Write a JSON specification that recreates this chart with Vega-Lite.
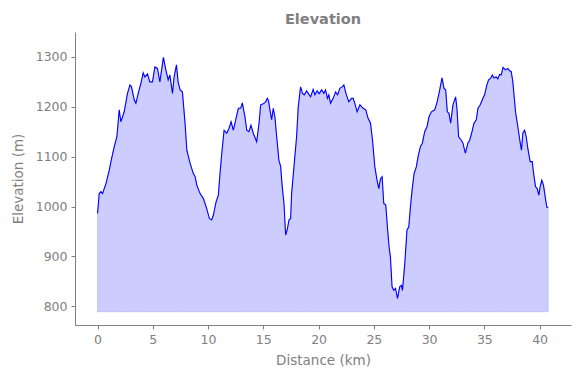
{
  "$schema": "https://vega.github.io/schema/vega-lite/v6.json",
  "autosize": "none",
  "width": 496,
  "height": 293,
  "padding": {"left": 75, "top": 32, "right": 9, "bottom": 53},
  "background": "white",
  "config": {
    "view": {"stroke": null},
    "font": "DejaVu Sans",
    "axis": {
      "grid": false,
      "domainColor": "#808080",
      "tickColor": "#808080",
      "labelColor": "#808080",
      "titleColor": "#808080",
      "labelFont": "DejaVu Sans",
      "titleFont": "DejaVu Sans",
      "labelFontSize": 12.5,
      "titleFontSize": 13.5,
      "titleFontWeight": "normal",
      "tickSize": 4,
      "labelPadding": 4
    }
  },
  "title": {
    "text": "Elevation",
    "fontSize": 14.5,
    "fontWeight": "bold",
    "color": "#808080",
    "font": "DejaVu Sans",
    "anchor": "middle",
    "offset": 5
  },
  "data": {
    "values": [
      {"km": 0, "elev": 986}, {"km": 0.15, "elev": 1026}, {"km": 0.31, "elev": 1030}, {"km": 0.45, "elev": 1026},
      {"km": 0.76, "elev": 1046}, {"km": 1.06, "elev": 1073}, {"km": 1.21, "elev": 1090}, {"km": 1.51, "elev": 1120},
      {"km": 1.75, "elev": 1140}, {"km": 1.96, "elev": 1194}, {"km": 2.11, "elev": 1170}, {"km": 2.41, "elev": 1190},
      {"km": 2.71, "elev": 1227}, {"km": 2.93, "elev": 1244}, {"km": 3.07, "elev": 1240}, {"km": 3.32, "elev": 1214},
      {"km": 3.47, "elev": 1207}, {"km": 3.68, "elev": 1227}, {"km": 3.92, "elev": 1247}, {"km": 4.13, "elev": 1268},
      {"km": 4.28, "elev": 1260}, {"km": 4.52, "elev": 1266}, {"km": 4.73, "elev": 1250}, {"km": 4.97, "elev": 1250},
      {"km": 5.19, "elev": 1280}, {"km": 5.42, "elev": 1277}, {"km": 5.64, "elev": 1250}, {"km": 5.96, "elev": 1299},
      {"km": 6.18, "elev": 1274}, {"km": 6.39, "elev": 1254}, {"km": 6.54, "elev": 1264}, {"km": 6.78, "elev": 1227},
      {"km": 6.93, "elev": 1260}, {"km": 7.14, "elev": 1284}, {"km": 7.29, "elev": 1250}, {"km": 7.47, "elev": 1234},
      {"km": 7.68, "elev": 1230}, {"km": 7.92, "elev": 1167}, {"km": 8.08, "elev": 1113}, {"km": 8.37, "elev": 1087},
      {"km": 8.67, "elev": 1066}, {"km": 8.83, "elev": 1060}, {"km": 8.98, "elev": 1043}, {"km": 9.28, "elev": 1026},
      {"km": 9.58, "elev": 1016}, {"km": 9.88, "elev": 996}, {"km": 10.12, "elev": 976}, {"km": 10.33, "elev": 973},
      {"km": 10.48, "elev": 983}, {"km": 10.72, "elev": 1009}, {"km": 10.93, "elev": 1023}, {"km": 11.08, "elev": 1066},
      {"km": 11.24, "elev": 1107}, {"km": 11.45, "elev": 1153}, {"km": 11.69, "elev": 1147}, {"km": 11.9, "elev": 1157},
      {"km": 12.08, "elev": 1170}, {"km": 12.29, "elev": 1153}, {"km": 12.53, "elev": 1177}, {"km": 12.74, "elev": 1197},
      {"km": 12.95, "elev": 1197}, {"km": 13.1, "elev": 1208}, {"km": 13.34, "elev": 1180}, {"km": 13.5, "elev": 1153},
      {"km": 13.7, "elev": 1150}, {"km": 13.88, "elev": 1163}, {"km": 14.09, "elev": 1147}, {"km": 14.4, "elev": 1130},
      {"km": 14.61, "elev": 1167}, {"km": 14.76, "elev": 1204}, {"km": 15.0, "elev": 1206}, {"km": 15.21, "elev": 1210},
      {"km": 15.36, "elev": 1217}, {"km": 15.47, "elev": 1212}, {"km": 15.6, "elev": 1194}, {"km": 15.75, "elev": 1174},
      {"km": 15.9, "elev": 1197}, {"km": 16.05, "elev": 1180}, {"km": 16.21, "elev": 1140}, {"km": 16.41, "elev": 1093},
      {"km": 16.57, "elev": 1080}, {"km": 16.71, "elev": 1040}, {"km": 16.87, "elev": 1006}, {"km": 17.02, "elev": 943},
      {"km": 17.16, "elev": 953}, {"km": 17.32, "elev": 973}, {"km": 17.47, "elev": 976}, {"km": 17.56, "elev": 1026},
      {"km": 17.8, "elev": 1087}, {"km": 18.01, "elev": 1140}, {"km": 18.16, "elev": 1200}, {"km": 18.37, "elev": 1240},
      {"km": 18.55, "elev": 1227}, {"km": 18.7, "elev": 1224}, {"km": 18.92, "elev": 1232}, {"km": 19.06, "elev": 1227},
      {"km": 19.28, "elev": 1220}, {"km": 19.51, "elev": 1235}, {"km": 19.67, "elev": 1224}, {"km": 19.87, "elev": 1232},
      {"km": 20.05, "elev": 1226}, {"km": 20.27, "elev": 1234}, {"km": 20.48, "elev": 1227}, {"km": 20.63, "elev": 1234},
      {"km": 20.81, "elev": 1217}, {"km": 20.93, "elev": 1224}, {"km": 21.08, "elev": 1207}, {"km": 21.32, "elev": 1217},
      {"km": 21.54, "elev": 1230}, {"km": 21.72, "elev": 1224}, {"km": 21.92, "elev": 1237}, {"km": 22.13, "elev": 1240},
      {"km": 22.29, "elev": 1244}, {"km": 22.44, "elev": 1230}, {"km": 22.58, "elev": 1220}, {"km": 22.74, "elev": 1210},
      {"km": 22.98, "elev": 1217}, {"km": 23.13, "elev": 1217}, {"km": 23.28, "elev": 1207}, {"km": 23.49, "elev": 1190},
      {"km": 23.74, "elev": 1204}, {"km": 24.03, "elev": 1197}, {"km": 24.27, "elev": 1194}, {"km": 24.48, "elev": 1177},
      {"km": 24.7, "elev": 1167}, {"km": 24.88, "elev": 1133}, {"km": 25.09, "elev": 1080}, {"km": 25.29, "elev": 1053},
      {"km": 25.45, "elev": 1036}, {"km": 25.6, "elev": 1056}, {"km": 25.75, "elev": 1060}, {"km": 25.9, "elev": 1006},
      {"km": 26.08, "elev": 1003}, {"km": 26.23, "elev": 959}, {"km": 26.38, "elev": 919}, {"km": 26.5, "elev": 899},
      {"km": 26.65, "elev": 839}, {"km": 26.8, "elev": 832}, {"km": 26.96, "elev": 836}, {"km": 27.14, "elev": 816},
      {"km": 27.34, "elev": 839}, {"km": 27.5, "elev": 842}, {"km": 27.59, "elev": 832}, {"km": 27.8, "elev": 886},
      {"km": 28.0, "elev": 953}, {"km": 28.16, "elev": 959}, {"km": 28.31, "elev": 999}, {"km": 28.46, "elev": 1033},
      {"km": 28.64, "elev": 1066}, {"km": 28.85, "elev": 1080}, {"km": 29.0, "elev": 1100}, {"km": 29.21, "elev": 1120},
      {"km": 29.39, "elev": 1127}, {"km": 29.6, "elev": 1150}, {"km": 29.81, "elev": 1160}, {"km": 29.99, "elev": 1180},
      {"km": 30.21, "elev": 1190}, {"km": 30.51, "elev": 1194}, {"km": 30.73, "elev": 1210}, {"km": 30.96, "elev": 1234},
      {"km": 31.17, "elev": 1258}, {"km": 31.35, "elev": 1237}, {"km": 31.5, "elev": 1234}, {"km": 31.65, "elev": 1190},
      {"km": 31.8, "elev": 1187}, {"km": 31.95, "elev": 1167}, {"km": 32.16, "elev": 1204}, {"km": 32.4, "elev": 1220},
      {"km": 32.52, "elev": 1197}, {"km": 32.67, "elev": 1140}, {"km": 32.92, "elev": 1133}, {"km": 33.06, "elev": 1127},
      {"km": 33.28, "elev": 1107}, {"km": 33.51, "elev": 1127}, {"km": 33.67, "elev": 1133}, {"km": 33.88, "elev": 1150},
      {"km": 34.06, "elev": 1167}, {"km": 34.27, "elev": 1174}, {"km": 34.42, "elev": 1197}, {"km": 34.63, "elev": 1204},
      {"km": 34.87, "elev": 1217}, {"km": 35.02, "elev": 1224}, {"km": 35.23, "elev": 1244}, {"km": 35.38, "elev": 1254},
      {"km": 35.56, "elev": 1257}, {"km": 35.72, "elev": 1264}, {"km": 35.86, "elev": 1258}, {"km": 36.08, "elev": 1260},
      {"km": 36.22, "elev": 1256}, {"km": 36.38, "elev": 1265}, {"km": 36.53, "elev": 1264}, {"km": 36.69, "elev": 1279},
      {"km": 36.92, "elev": 1274}, {"km": 37.13, "elev": 1277}, {"km": 37.28, "elev": 1272}, {"km": 37.43, "elev": 1271},
      {"km": 37.58, "elev": 1250}, {"km": 37.82, "elev": 1190}, {"km": 38.03, "elev": 1160}, {"km": 38.25, "elev": 1127},
      {"km": 38.36, "elev": 1113}, {"km": 38.48, "elev": 1147}, {"km": 38.64, "elev": 1153}, {"km": 38.79, "elev": 1140},
      {"km": 38.93, "elev": 1117}, {"km": 39.15, "elev": 1090}, {"km": 39.33, "elev": 1090}, {"km": 39.48, "elev": 1063},
      {"km": 39.63, "elev": 1040}, {"km": 39.78, "elev": 1036}, {"km": 39.93, "elev": 1023}, {"km": 40.05, "elev": 1040},
      {"km": 40.2, "elev": 1053}, {"km": 40.35, "elev": 1043}, {"km": 40.53, "elev": 1016}, {"km": 40.65, "elev": 999},
      {"km": 40.78, "elev": 998}
    ]
  },
  "encoding": {
    "x": {
      "field": "km",
      "type": "quantitative",
      "title": "Distance (km)",
      "scale": {"domain": [-2.04, 42.84], "nice": false, "zero": false},
      "axis": {"values": [0, 5, 10, 15, 20, 25, 30, 35, 40], "format": "d", "titlePadding": 8}
    }
  },
  "layer": [
    {
      "mark": {"type": "area", "color": "blue", "fillOpacity": 0.2, "stroke": "blue", "strokeOpacity": 0.15, "strokeWidth": 1},
      "encoding": {
        "y": {
          "field": "elev",
          "type": "quantitative",
          "title": "Elevation (m)",
          "scale": {"domain": [762.5, 1350], "nice": false, "zero": false},
          "axis": {"values": [800, 900, 1000, 1100, 1200, 1300], "format": "d", "titlePadding": 10}
        },
        "y2": {"datum": 789}
      }
    },
    {
      "mark": {"type": "line", "color": "blue", "strokeWidth": 1.1},
      "encoding": {
        "y": {"field": "elev", "type": "quantitative"}
      }
    }
  ]
}
